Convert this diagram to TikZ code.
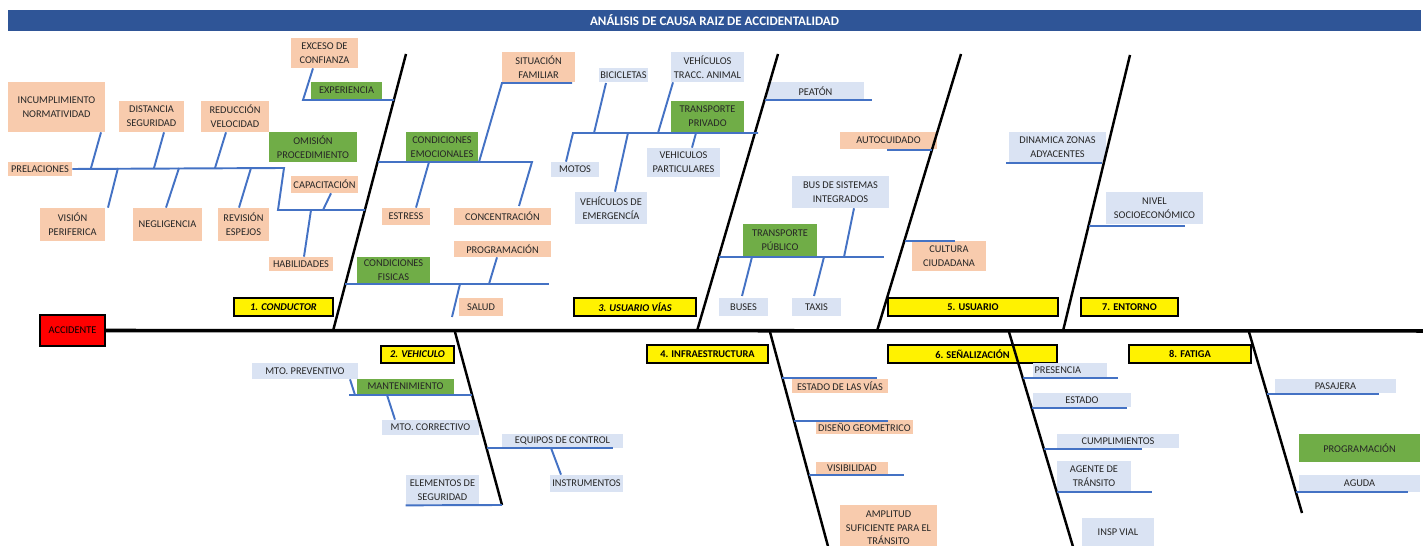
\documentclass[tikz,border=0pt]{standalone}
\usepackage{fontspec}
\setmainfont{Carlito}
\usepackage{tikz}

\definecolor{titulo}{HTML}{2F5597}
\definecolor{durazno}{HTML}{F8CBAD}
\definecolor{verdecaja}{HTML}{70AD47}
\definecolor{griscaja}{HTML}{DAE3F3}
\definecolor{azul}{HTML}{4472C4}

\begin{document}
\begin{tikzpicture}[x=0.02cm, y=-0.02cm,
	caja/.style={inner sep=0pt, align=center, text=black!85, font=\fontsize{5.9}{7.8}\selectfont},
	peach/.style={caja, fill=durazno},
	verde/.style={caja, fill=verdecaja},
	gris/.style={caja, fill=griscaja},
	cat/.style={caja, fill=yellow, draw=black, line width=0.9pt, text=black, font=\fontsize{5.9}{7.8}\selectfont\bfseries},
	sz/.style 2 args={minimum width=#1*0.02cm, minimum height=#2*0.02cm},
	espina/.style={line width=1.4pt, black},
	rama/.style={line width=1.1pt, azul},
]
\useasboundingbox (0,0) rectangle (1423,546);

% titulo
\node[sz={1413}{21.5}, fill=titulo, text=white, inner sep=0pt,
	font=\fontsize{7.4}{9}\selectfont\bfseries] (titulo) at (714.5,20.3)
	{ANÁLISIS DE CAUSA RAIZ DE ACCIDENTALIDAD};

% efecto
\node[caja, sz={65}{31}, fill=red, draw=black, line width=0.9pt, text=black] (accidente) at (72.5,330.5) {ACCIDENTE};
\coordinate (fin) at (1423,331);

% etiquetas de categoria
\node[cat, sz={99}{18}] (c1) at (283.5,307) {\itshape 1. CONDUCTOR};
\node[cat, sz={73}{17}] (c2) at (417.5,354.5) {\itshape 2. VEHICULO};
\node[cat, sz={122}{18}] (c3) at (635,307) {\itshape 3. USUARIO VÍAS};
\node[cat, sz={121}{18}] (c4) at (707.5,354) {4. INFRAESTRUCTURA};
\node[cat, sz={170}{18}] (c5) at (973,307) {5. USUARIO};
\node[cat, sz={169}{18}] (c6) at (972.5,354) {6. SEÑALIZACIÓN};
\node[cat, sz={97}{18}] (c7) at (1129.5,307) {7. ENTORNO};
\node[cat, sz={122}{18}] (c8) at (1190,354) {8. FATIGA};

% 1. conductor
\node[peach, sz={67}{30}] (exceso) at (324.5,53) {EXCESO DE\\CONFIANZA};
\node[verde, sz={71}{17}] (experiencia) at (346.5,90.5) {EXPERIENCIA};
\node[peach, sz={97}{50}] (incump) at (56.5,107) {INCUMPLIMIENTO\\NORMATIVIDAD};
\node[peach, sz={65}{31}] (distancia) at (151.5,116.5) {DISTANCIA\\SEGURIDAD};
\node[peach, sz={68}{31}] (reduccion) at (235,116.5) {REDUCCIÓN\\VELOCIDAD};
\node[verde, sz={88}{30}] (omision) at (313,147) {OMISIÓN\\PROCEDIMIENTO};
\node[peach, sz={64}{14}] (prelaciones) at (40,169) {PRELACIONES};
\node[peach, sz={65}{33}] (vision) at (72.5,224.5) {VISIÓN\\PERIFERICA};
\node[peach, sz={69}{33}] (negligencia) at (167.5,224.5) {NEGLIGENCIA};
\node[peach, sz={51}{33}] (revision) at (243.5,224.5) {REVISIÓN\\ESPEJOS};
\node[peach, sz={67}{17}] (capacitacion) at (324.5,184.5) {CAPACITACIÓN};
\node[peach, sz={64}{14}] (habilidades) at (301,264) {HABILIDADES};

\node[verde, sz={72}{30}] (emocionales) at (442,147) {CONDICIONES\\EMOCIONALES};
\node[peach, sz={73}{30}] (situacion) at (538.5,67) {SITUACIÓN\\FAMILIAR};
\node[peach, sz={48}{17}] (estress) at (406,216.5) {ESTRESS};
\node[peach, sz={97}{17}] (concentracion) at (502.5,216.5) {CONCENTRACIÓN};
\node[peach, sz={97}{16}] (programacion) at (502.5,249) {PROGRAMACIÓN};
\node[verde, sz={73}{26}] (fisicas) at (393.5,270) {CONDICIONES\\FISICAS};
\node[peach, sz={44}{18}] (salud) at (481,307) {SALUD};

% 3. usuario vias
\node[gris, sz={49}{14}] (bicicletas) at (623.5,75) {BICICLETAS};
\node[gris, sz={73}{30}] (tracc) at (707.5,67) {VEHÍCULOS\\TRACC. ANIMAL};
\node[verde, sz={73}{31}] (privado) at (707.5,116.5) {TRANSPORTE\\PRIVADO};
\node[gris, sz={48}{15}] (motos) at (575,169.5) {MOTOS};
\node[gris, sz={72}{32}] (emergencia) at (611,208) {VEHÍCULOS DE\\EMERGENCÍA};
\node[gris, sz={73}{29}] (particulares) at (683.5,162.5) {VEHICULOS\\PARTICULARES};
\node[gris, sz={97}{18}] (peaton) at (815.5,91) {PEATÓN};
\node[verde, sz={74}{33}] (publico) at (780,240.5) {TRANSPORTE\\PÚBLICO};
\node[gris, sz={97}{32}] (bus) at (840.5,192) {BUS DE SISTEMAS\\INTEGRADOS};
\node[gris, sz={49}{18}] (buses) at (743.5,307) {BUSES};
\node[gris, sz={49}{18}] (taxis) at (816.5,307) {TAXIS};

% 5. usuario y 7. entorno
\node[peach, sz={97}{17}] (autocuidado) at (888.5,140.5) {AUTOCUIDADO};
\node[peach, sz={74}{30}] (cultura) at (949,256) {CULTURA\\CIUDADANA};
\node[gris, sz={97}{30}] (dinamica) at (1057.5,147) {DINAMICA ZONAS\\ADYACENTES};
\node[gris, sz={97}{32}] (nivel) at (1154.5,208) {NIVEL\\SOCIOECONÓMICO};

% 2. vehiculo
\node[gris, sz={106}{16}] (preventivo) at (305,371) {MTO. PREVENTIVO};
\node[verde, sz={97}{15}] (mantenimiento) at (405.5,386.5) {MANTENIMIENTO};
\node[gris, sz={97}{15}] (correctivo) at (430.5,427.5) {MTO. CORRECTIVO};
\node[gris, sz={73}{30}] (elementos) at (442.5,490) {ELEMENTOS DE\\SEGURIDAD};
\node[gris, sz={121}{14}] (equipos) at (562.5,441) {EQUIPOS DE CONTROL};
\node[gris, sz={73}{17}] (instrumentos) at (586.5,483.5) {INSTRUMENTOS};

% 4. infraestructura
\node[peach, sz={96}{14}] (vias) at (840,386) {ESTADO DE LAS VÍAS};
\node[peach, sz={97}{14}] (diseno) at (864.5,427) {DISEÑO GEOMETRICO};
\node[peach, sz={72}{13}] (visibilidad) at (852,468.5) {VISIBILIDAD};
\node[peach, sz={97}{46}] (amplitud) at (888.5,528) {AMPLITUD\\SUFICIENTE PARA EL\\TRÁNSITO};

% 6. senalizacion
\node[gris, sz={74}{14}, align=left, text width=71*0.02cm] (presencia) at (1070,370) {PRESENCIA};
\node[gris, sz={98}{14}] (estado) at (1082,400) {ESTADO};
\node[gris, sz={122}{14}] (cumplimientos) at (1118,441) {CUMPLIMIENTOS};
\node[gris, sz={74}{30}] (agente) at (1094,476) {AGENTE DE\\TRÁNSITO};
\node[gris, sz={72}{29}] (insp) at (1118,532.5) {INSP VIAL};

% 8. fatiga
\node[gris, sz={121}{14}] (pasajera) at (1335.5,386) {PASAJERA};
\node[verde, sz={121}{28}] (programacion2) at (1359.5,448) {PROGRAMACIÓN};
\node[gris, sz={121}{17}] (aguda) at (1359.5,483.5) {AGUDA};

% espina y huesos
\draw[line width=2pt] (accidente.east) -- (fin);
\draw[espina] (333,331) -- (406,54);
\draw[espina] (697,331) -- (778,54);
\draw[espina] (877,331) -- (961,54);
\draw[espina] (1063,331) -- (1130,55);
\draw[espina] (455,332) -- (502,505);
\draw[espina] (770,332) -- (829,550);
\draw[espina] (1009,332) -- (1074,550);
\draw[espina] (1249,332) -- (1302,513);

% ramas conductor
\draw[rama] (exceso.south -| 313,0) -- (303,100) -- (394,100);
\draw[rama] (prelaciones.east) -- (284,168) -- (278,210) -- (365,210);
\draw[rama] (91,168) -- (incump.south -| 101,0);
\draw[rama] (154,168) -- (distancia.south -| 164,0);
\draw[rama] (215,168) -- (reduccion.south -| 226,0);
\draw[rama] (118,168) -- (vision.north -| 108,0);
\draw[rama] (179,168) -- (negligencia.north -| 166,0);
\draw[rama] (251,168) -- (revision.north -| 239,0);
\draw[rama] (323,210) -- (capacitacion.south -| 331,0);
\draw[rama] (311,210) -- (habilidades.north -| 304,0);
\draw[rama] (378,162) -- (532,162) -- (519,206);
\draw[rama] (479,162) -- (502,83) -- (572,83);
\draw[rama] (429,162) -- (estress.north -| 416,0);
\draw[rama] (345,284) -- (549,284);
\draw[rama] (489,284) -- (programacion.south -| 497,0);
\draw[rama] (460,284) -- (452,317);

% ramas usuario vias
\draw[rama] (motos.north -| 566,0) -- (573,133) -- (758,133);
\draw[rama] (594,133) -- (606,83);
\draw[rama] (658,133) -- (tracc.south -| 673,0);
\draw[rama] (628,133) -- (emergencia.north -| 615,0);
\draw[rama] (696,133) -- (particulares.north -| 692,0);
\draw[rama] (765,100) -- (872,100);
\draw[rama] (719,257) -- (884,257);
\draw[rama] (844,257) -- (bus.south -| 854,0);
\draw[rama] (752,257) -- (742,296);
\draw[rama] (824,257) -- (814,296);

% ramas usuario y entorno
\draw[rama] (887,150) -- (932,150);
\draw[rama] (905,241) -- (955,241);
\draw[rama] (1006,163) -- (1102,163);
\draw[rama] (1089,226) -- (1185,226);

% ramas vehiculo
\draw[rama] (349,395) -- (472,395);
\draw[rama] (355,395) -- (preventivo.south -| 350,0);
\draw[rama] (387,395) -- (correctivo.north -| 395,0);
\draw[rama] (elementos.south west) -- (502,505);
\draw[rama] (487,448) -- (613,448);
\draw[rama] (551,448) -- (instrumentos.north -| 561,0);

% ramas infraestructura
\draw[rama] (782,378) -- (877,378);
\draw[rama] (794,421) -- (888,421);
\draw[rama] (809,475) -- (904,475);

% ramas senalizacion
\draw[rama] (1023,378) -- (1118,378);
\draw[rama] (1032,408) -- (1127,408);
\draw[rama] (1044,449) -- (1142,449);
\draw[rama] (1057,492) -- (1152,492);

% ramas fatiga
\draw[rama] (1267,394) -- (1379,394);
\draw[rama] (1296,492) -- (1408,492);

\end{tikzpicture}
\end{document}
